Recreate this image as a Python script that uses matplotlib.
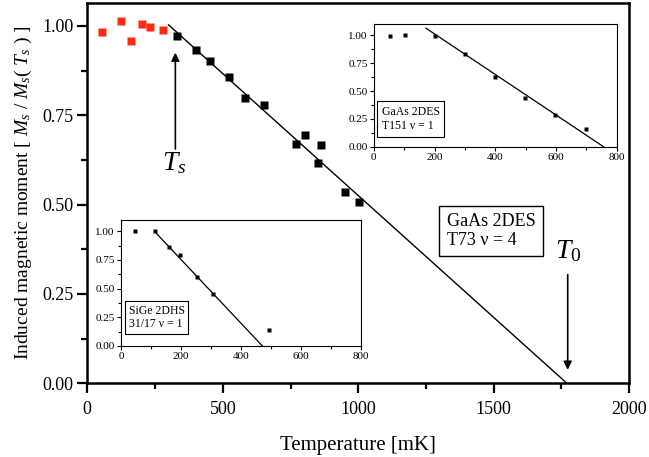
import numpy as np
import matplotlib
matplotlib.use("Agg")
import matplotlib.pyplot as plt
from matplotlib.ticker import MultipleLocator

plt.rcParams['font.family'] = ['Liberation Serif', 'DejaVu Serif']
plt.rcParams['mathtext.fontset'] = 'custom'
plt.rcParams['mathtext.rm'] = 'Liberation Serif'
plt.rcParams['mathtext.it'] = 'Liberation Serif:italic'

# ---- main data (GaAs 2DES T73 nu=4) ----
red_T = [56, 126, 162, 201, 231, 281]
red_M = [0.982, 1.014, 0.958, 1.005, 0.998, 0.989]
blk_T = [331, 401, 452, 522, 581, 651, 772, 802, 852, 862, 951, 1001]
blk_M = [0.973, 0.934, 0.902, 0.856, 0.797, 0.780, 0.671, 0.695, 0.617, 0.666, 0.536, 0.507]
fit_T = [300, 1770]
fit_M = [1.003, 0.0]

# ---- inset 1 (GaAs 2DES T151 nu=1) ----
in1_T = [53, 103, 203, 302, 401, 499, 598, 698]
in1_M = [0.994, 1.003, 0.997, 0.83, 0.624, 0.433, 0.287, 0.161]
in1_fit_T = [172, 757]
in1_fit_M = [1.064, 0.0]

# ---- inset 2 (SiGe 2DHS 31/17 nu=1) ----
in2_T = [48, 112, 159, 197, 254, 305, 494]
in2_M = [1.0, 1.0, 0.86, 0.79, 0.597, 0.455, 0.142]
in2_fit_T = [115, 471]
in2_fit_M = [0.99, 0.0]

fig = plt.figure(figsize=(6.49, 4.57), dpi=100)
ax = fig.add_axes([0.1345, 0.1613, 0.835, 0.832])

ax.plot(fit_T, fit_M, color='black', lw=1.0, zorder=2)
ax.plot(red_T, red_M, 's', color='#ff2a10', ms=5.2, mec='none', zorder=3)
ax.plot(blk_T, blk_M, 's', color='black', ms=5.4, mec='none', zorder=3)

ax.set_xlim(0, 2000)
ax.set_ylim(0, 1.064)
ax.xaxis.set_major_locator(MultipleLocator(500))
ax.xaxis.set_minor_locator(MultipleLocator(250))
ax.yaxis.set_major_locator(MultipleLocator(0.25))
ax.yaxis.set_minor_locator(MultipleLocator(0.125))
ax.set_yticks([0, 0.25, 0.5, 0.75, 1.0])
ax.set_yticklabels(['0.00', '0.25', '0.50', '0.75', '1.00'])
ax.tick_params(which='major', direction='out', length=7, width=1.6, labelsize=13, pad=3)
ax.tick_params(axis='x', which='major', pad=6)
ax.tick_params(which='minor', direction='out', length=4, width=1.6)
for s in ax.spines.values():
    s.set_linewidth(1.8)

ax.set_xlabel('Temperature [mK]', fontsize=15, labelpad=13)
ax.set_ylabel(r'Induced magnetic moment [ $M_s$ / $M_s$( $T_s$ ) ]', fontsize=14, labelpad=6)

# arrows
ax.annotate('', xy=(325, 0.933), xytext=(325, 0.648),
            arrowprops=dict(arrowstyle='-|>', color='black', lw=1.2, mutation_scale=12))
ax.text(319, 0.597, r'$T_s$', fontsize=20, ha='center', va='baseline')
ax.annotate('', xy=(1773, 0.030), xytext=(1773, 0.312),
            arrowprops=dict(arrowstyle='-|>', color='black', lw=1.2, mutation_scale=12))
ax.text(1776, 0.35, r'$T_0$', fontsize=20, ha='center', va='baseline')

ax.text(1490, 0.4267, 'GaAs 2DES\nT73 \u03bd = 4', fontsize=13, ha='center', va='center',
        multialignment='left', linespacing=1.15,
        bbox=dict(boxstyle='square,pad=0.4', fc='white', ec='black', lw=1.0))

def style_inset(a):
    a.set_xlim(0, 800)
    a.set_ylim(0, 1.1)
    a.set_xticks([0, 200, 400, 600, 800])
    a.xaxis.set_minor_locator(MultipleLocator(100))
    a.set_yticks([0, 0.25, 0.5, 0.75, 1.0])
    a.set_yticklabels(['0.00', '0.25', '0.50', '0.75', '1.00'])
    a.yaxis.set_minor_locator(MultipleLocator(0.125))
    a.tick_params(which='major', direction='out', length=3, width=0.8, labelsize=8, pad=1.5)
    a.tick_params(which='minor', direction='out', length=2, width=0.8)
    for s in a.spines.values():
        s.set_linewidth(0.8)

ax1 = fig.add_axes([0.576, 0.679, 0.374, 0.268])
ax1.plot(in1_fit_T, in1_fit_M, color='black', lw=0.9)
ax1.plot(in1_T, in1_M, 's', color='black', ms=3.2, mec='none')
style_inset(ax1)
ax1.text(0.152, 0.227, 'GaAs 2DES\nT151 \u03bd = 1', transform=ax1.transAxes, fontsize=8.5,
         ha='center', va='center', multialignment='left',
         bbox=dict(boxstyle='square,pad=0.4', fc='white', ec='black', lw=0.8))

ax2 = fig.add_axes([0.1864, 0.243, 0.370, 0.276])
ax2.plot(in2_fit_T, in2_fit_M, color='black', lw=0.9)
ax2.plot(in2_T, in2_M, 's', color='black', ms=3.2, mec='none')
style_inset(ax2)
ax2.text(0.149, 0.226, 'SiGe 2DHS\n31/17 \u03bd = 1', transform=ax2.transAxes, fontsize=8.5,
         ha='center', va='center', multialignment='left',
         bbox=dict(boxstyle='square,pad=0.3', fc='white', ec='black', lw=0.8))

fig.savefig('out.png', dpi=100)
